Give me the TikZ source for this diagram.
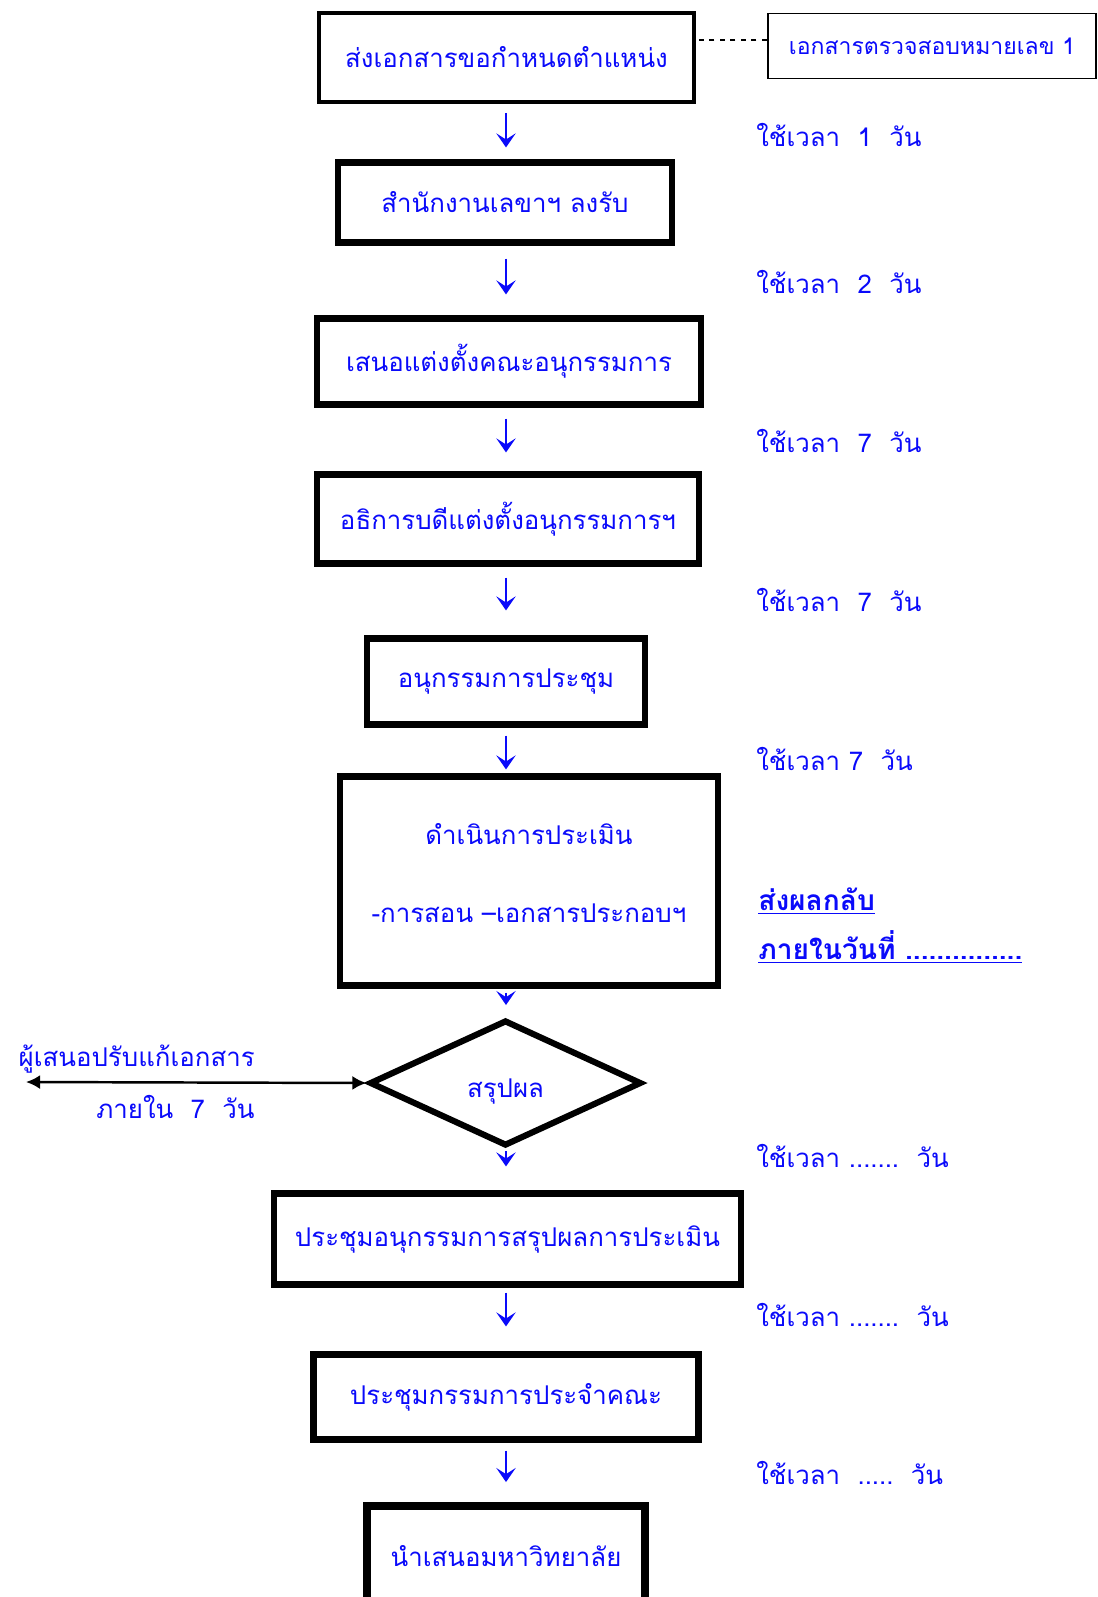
\documentclass[tikz,border=0pt]{standalone}
\usepackage{fontspec}
\newfontfamily\thaifont[Script=Thai]{Loma}
\usetikzlibrary{shapes.geometric}
\usetikzlibrary{arrows.meta}
\definecolor{flowblue}{RGB}{10,10,250}
\newcommand{\thaitext}{\thaifont\fontsize{14.7}{18}\selectfont}
\tikzset{
  stepbox/.style={draw,line width=3.5pt,text=flowblue,font=\thaitext,align=center},
  docbox/.style={draw,line width=1.1pt,text=flowblue,font=\thaifont\fontsize{13.1}{16}\selectfont},
  timelabel/.style={anchor=west,text=flowblue,font=\thaitext,inner sep=0pt},
  flow/.style={flowblue,line width=1.7pt,-{Stealth[length=8pt,width=11pt,inset=3.5pt]}}
}

\begin{document}
\begin{tikzpicture}
  \useasboundingbox (0,0) rectangle (21.96,-31.94);
  \coordinate (axis) at (10.12,0);
  % the steps
  \node[stepbox,line width=2pt,minimum width=7.5cm,minimum height=1.78cm] (send) at (10.13,-1.15) {ส่งเอกสารขอกำหนดตำแหน่ง};
  \node[docbox,minimum width=6.56cm,minimum height=1.3cm] (doc) at (18.64,-0.92) {เอกสารตรวจสอบหมายเลข 1};
  \node[stepbox,minimum width=6.68cm,minimum height=1.6cm] (register) at (10.1,-4.05) {สำนักงานเลขาฯ ลงรับ};
  \node[stepbox,minimum width=7.68cm,minimum height=1.72cm] (propose) at (10.18,-7.23) {เสนอแต่งตั้งคณะอนุกรรมการ};
  \node[stepbox,minimum width=7.64cm,minimum height=1.78cm] (appoint) at (10.16,-10.38) {อธิการบดีแต่งตั้งอนุกรรมการฯ};
  \node[stepbox,minimum width=5.56cm,minimum height=1.72cm] (meet) at (10.12,-13.63) {อนุกรรมการประชุม};
  \node[stepbox,minimum width=7.56cm,minimum height=4.18cm] (assess) at (10.58,-17.62)
    {ดำเนินการประเมิน\\[26pt]-การสอน –เอกสารประกอบฯ\rule[-9pt]{0pt}{9pt}};
  \node[stepbox,shape=diamond,minimum width=5.44cm,minimum height=2.4cm] (verdict) at (10.11,-21.66)
    {\raisebox{-5pt}[\height][\depth]{สรุปผล}};
  \node[stepbox,minimum width=9.34cm,minimum height=1.82cm] (summary) at (10.15,-24.78) {ประชุมอนุกรรมการสรุปผลการประเมิน};
  \node[stepbox,minimum width=7.7cm,minimum height=1.7cm] (faculty) at (10.12,-27.94) {ประชุมกรรมการประจำคณะ};
  \node[stepbox,line width=4.5pt,minimum width=5.56cm,minimum height=2cm] (univ) at (10.12,-31.12) {นำเสนอมหาวิทยาลัย};

  \draw[dashed,line width=0.9pt] ([yshift=0.12cm]doc.west) -- ([yshift=0.12cm]doc.west -| send.east);

  \foreach \a/\b/\s/\e in {send/register/.18/.24, register/propose/.26/.42,
      propose/appoint/.22/.38, appoint/meet/.22/.5, meet/assess/.16/.08,
      assess/verdict/.08/.24, verdict/summary/.04/.48, summary/faculty/.1/.5,
      faculty/univ/.16/.4}
    \draw[flow,shorten <=\s cm,shorten >=\e cm] (\a.south -| axis) -- (\b.north -| axis);

  % time taken
  \node[timelabel] (t1) at (15.12,-2.70) {ใช้เวลา~~1~~วัน};
  \node[timelabel] (t2) at (15.12,-5.64) {ใช้เวลา~~2~~วัน};
  \node[timelabel] (t3) at (15.12,-8.82) {ใช้เวลา~~7~~วัน};
  \node[timelabel] (t4) at (15.12,-12.0) {ใช้เวลา~~7~~วัน};
  \node[timelabel] (t5) at (15.12,-15.18) {ใช้เวลา 7~~วัน};
  \node[timelabel] (t6) at (15.12,-23.12) {ใช้เวลา .......~~วัน};
  \node[timelabel] (t7) at (15.12,-26.3) {ใช้เวลา .......~~วัน};
  \node[timelabel] (t8) at (15.12,-29.46) {ใช้เวลา~~.....~~วัน};

  \node[timelabel,font=\thaifont\fontsize{16}{19}\selectfont\bfseries,align=left] (reply) at (15.16,-18.51)
    {\underline{ส่งผลกลับ}\\[9pt]\underline{ภายในวันที่ ...............}};

  % back to the applicant
  \coordinate (back) at (0.52,-21.64);
  \draw[line width=1.4pt,{Latex[length=8pt,width=8pt]}-{Latex[length=8pt,width=8pt]}] (back) -- (verdict.west);
  \node[text=flowblue,font=\thaitext,anchor=east,inner sep=0pt] (fix) at (5.1,-21.18) {ผู้เสนอปรับแก้เอกสาร};
  \node[text=flowblue,font=\thaitext,anchor=east,inner sep=0pt] (within) at (5.1,-22.14) {ภายใน~~7~~วัน};
\end{tikzpicture}
\end{document}
